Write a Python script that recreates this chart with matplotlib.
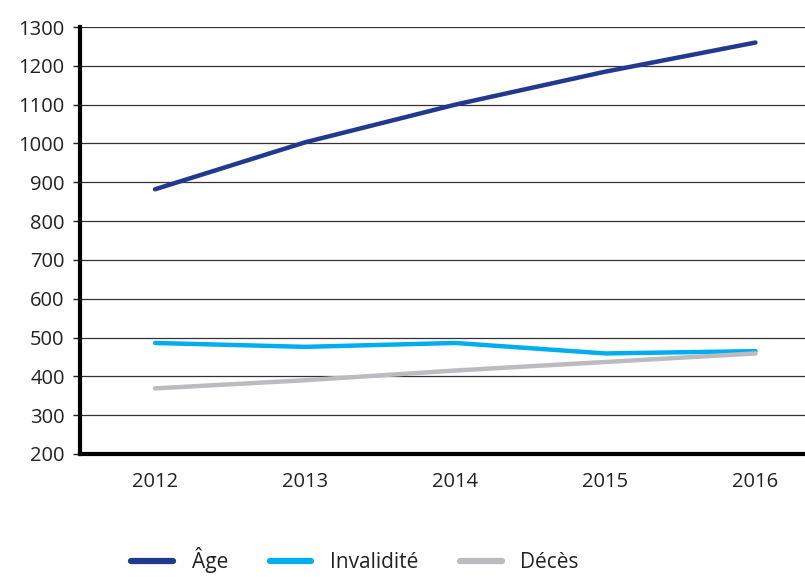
import numpy as np
import matplotlib.pyplot as plt

plt.rcParams['font.family'] = ['Open Sans', 'DejaVu Sans']

years = ["2012", "2013", "2014", "2015", "2016"]
age = [882, 1003, 1100, 1185, 1260]
invalidite = [486, 476, 486, 459, 465]
deces = [369, 390, 415, 437, 459]

fig = plt.figure(figsize=(8.05, 5.77), dpi=100)
ax = fig.add_axes([0.0994, 0.2132, 0.9006, 0.74])

x = np.arange(len(years))
ax.plot(x, age, color="#213a8f", lw=3.2, solid_capstyle="round", label="Âge")
ax.plot(x, invalidite, color="#00aeef", lw=3.2, solid_capstyle="round", label="Invalidité")
ax.plot(x, deces, color="#bcbcc0", lw=3.2, solid_capstyle="round", label="Décès")

ax.set_ylim(200, 1300)
ax.set_yticks(range(200, 1301, 100))
ax.set_xlim(-0.5, 4.33)
ax.set_xticks(x)
ax.set_xticklabels(years)

ax.yaxis.grid(True, color="#333333", lw=0.9)
ax.set_axisbelow(True)
for s in ["top", "right"]:
    ax.spines[s].set_visible(False)
ax.spines["left"].set_linewidth(3)
ax.spines["bottom"].set_linewidth(3)
ax.tick_params(axis="y", length=5, width=1, labelsize=14.5, colors="#222222", pad=6)
ax.tick_params(axis="x", length=0, labelsize=14.5, colors="#222222", pad=13)

leg = fig.legend(loc="lower center", bbox_to_anchor=(0.441, -0.026), ncol=3, frameon=False,
                 fontsize=15, handlelength=2.0, columnspacing=2.0, handletextpad=0.9,
                 labelcolor="#222222")
for h in leg.get_lines():
    h.set_linewidth(4.5)

fig.savefig("out.png", dpi=100)
